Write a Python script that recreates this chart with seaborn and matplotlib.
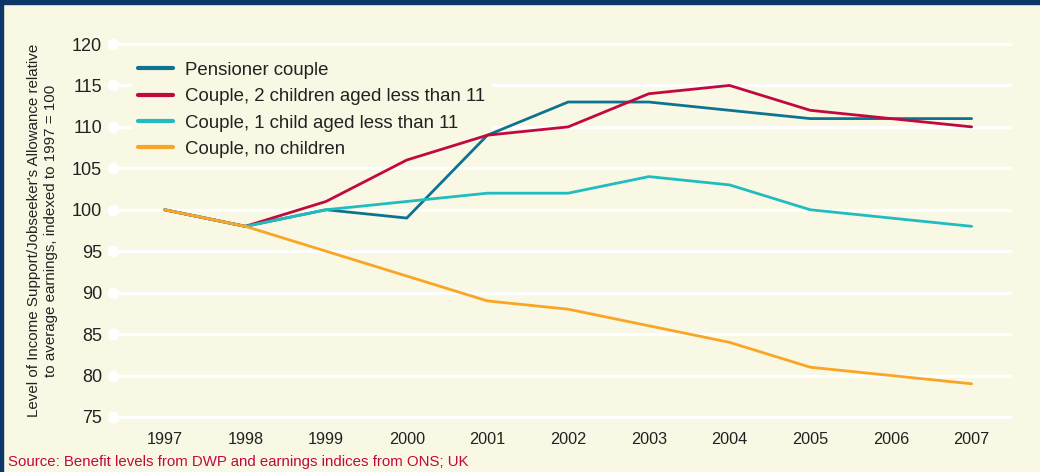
import pandas as pd
import numpy as np
import matplotlib
matplotlib.use("Agg")
import matplotlib.pyplot as plt
import seaborn as sns
from matplotlib.patches import Rectangle

# Данни
years = [1997, 1998, 1999, 2000, 2001, 2002, 2003, 2004, 2005, 2006, 2007]
pensioner = [100, 98, 100, 99, 109, 113, 113, 112, 111, 111, 111]
two_children = [100, 98, 101, 106, 109, 110, 114, 115, 112, 111, 110]
one_child = [100, 98, 100, 101, 102, 102, 104, 103, 100, 99, 98]
no_children = [100, 98, 95, 92, 89, 88, 86, 84, 81, 80, 79]

series_names = ["Pensioner couple", "Couple, 2 children aged less than 11",
                "Couple, 1 child aged less than 11", "Couple, no children"]
series_values = [pensioner, two_children, one_child, no_children]
colors = ["#0e7390", "#c2093f", "#21bcbf", "#f9a526"]
yticks = [75, 80, 85, 90, 95, 100, 105, 110, 115, 120]

rows = []
for name, vals in zip(series_names, series_values):
    for y, v in zip(years, vals):
        rows.append({"year": y, "value": v, "series": name})
df = pd.DataFrame(rows)

bg = "#f8f8e4"
sns.set_style("white")
plt.rcParams['font.family'] = ['Liberation Sans', 'DejaVu Sans']

fig = plt.figure(figsize=(10.4, 4.72), dpi=100, facecolor=bg)
ax = fig.add_axes([113 / 1040, 0.0903, (1012 - 113) / 1040, 0.8428])
ax.set_facecolor(bg)

xmin, xmax = 1996.36, 2007.5
ax.set_xlim(xmin, xmax)
ax.set_ylim(73.5, 121.5)

# Решетка
for t in yticks:
    ax.axhline(t, color="white", lw=2.3, zorder=1)
ax.scatter([xmin] * len(yticks), yticks, s=55, color="white", zorder=2, clip_on=False)

sns.lineplot(data=df, x="year", y="value", hue="series", hue_order=series_names,
             palette=colors, lw=2.0, ax=ax, zorder=3)

ax.set_yticks(yticks)
ax.set_xticks(years)
ax.set_xticklabels([str(y) for y in years])
ax.tick_params(axis="y", length=0, pad=8, labelsize=13, colors="#222222")
ax.tick_params(axis="x", length=0, pad=2, labelsize=11.7, colors="#222222")
for s in ax.spines.values():
    s.set_visible(False)
ax.set_xlabel("")
ax.set_ylabel("Level of Income Support/Jobseeker's Allowance relative\nto average earnings, indexed to 1997 = 100",
              fontsize=10.9, color="#222222", linespacing=1.3)
ax.yaxis.set_label_coords(-0.061, 0.5)

leg = ax.legend(loc="upper left", bbox_to_anchor=(0.0112, 0.961), frameon=True,
                facecolor=bg, edgecolor=bg, framealpha=1, fontsize=13.4,
                handlelength=1.9, handletextpad=0.65, labelspacing=0.5, borderpad=0.3)
leg.set_zorder(2.5)
for line in leg.get_lines():
    line.set_linewidth(3)
for t in leg.get_texts():
    t.set_color("#222222")

fig.text(8 / 1040, 1 - 462 / 472, "Source: Benefit levels from DWP and earnings indices from ONS; UK",
         color="#c2093f", fontsize=10.8, va="center", ha="left")

# Рамка
fig.add_artist(Rectangle((0, 1 - 4 / 472), 1, 4 / 472, transform=fig.transFigure,
                         color="#0c3668", zorder=10))
fig.add_artist(Rectangle((0, 0), 3 / 1040, 1, transform=fig.transFigure,
                         color="#0c3668", zorder=10))

fig.savefig("out.png", dpi=100, facecolor=bg)
